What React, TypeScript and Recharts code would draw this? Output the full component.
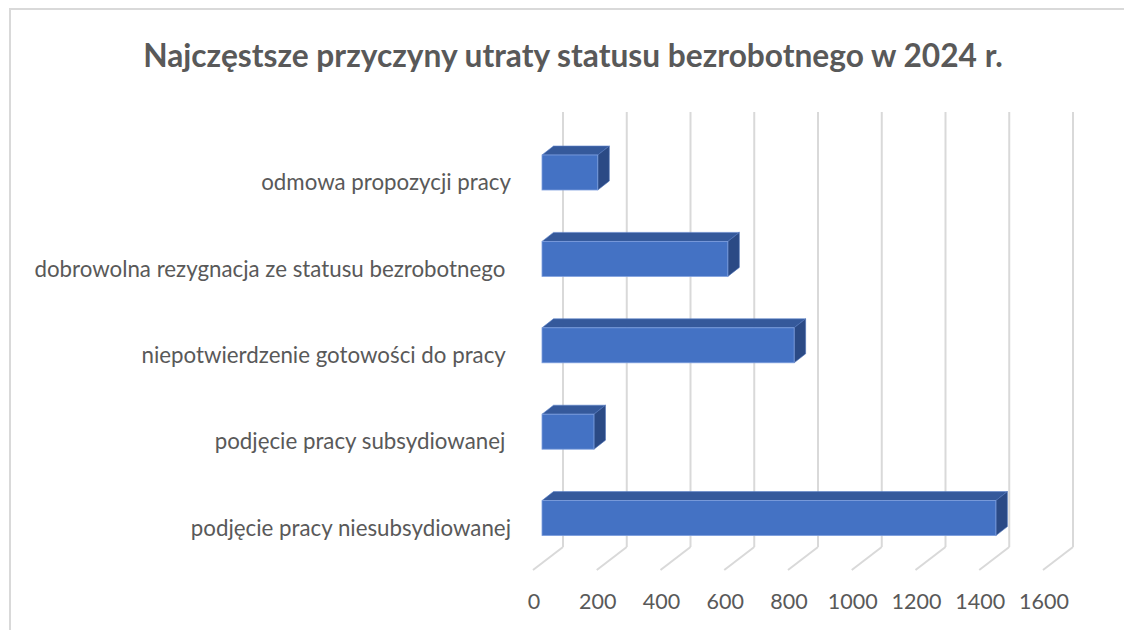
import { Bar, BarChart, CartesianGrid, XAxis, YAxis } from 'recharts'

const categories = [
  'odmowa propozycji pracy',
  'dobrowolna rezygnacja ze statusu bezrobotnego ',
  'niepotwierdzenie gotowości do pracy ',
  'podjęcie pracy subsydiowanej ',
  'podjęcie pracy niesubsydiowanej',
]
const values = [175, 583, 791, 163, 1424]
const xTicks = [0, 200, 400, 600, 800, 1000, 1200, 1400, 1600]

const data = categories.map((name, i) => ({ name, value: values[i] }))

const FRONT = '#4472c4'
const TOP = '#35599b'
const SIDE = '#2b4a85'
const GRID = '#d9d9d9'
const TEXT = '#595959'
const FONT = 'Lato, "Open Sans", sans-serif'

// bar depth (middle third of the 3D floor depth)
const BDX = 11.5
const BDY = 9

function Bar3D(props: any) {
  const { x, y, width, height } = props
  if (width == null || width <= 0) return null
  const top = `${x},${y} ${x + BDX},${y - BDY} ${x + width + BDX},${y - BDY} ${x + width},${y}`
  const side = `${x + width},${y} ${x + width + BDX},${y - BDY} ${x + width + BDX},${y + height - BDY} ${x + width},${y + height}`
  return (
    <g>
      <polygon points={top} fill={TOP} stroke="#5b82c9" strokeWidth={0.6} />
      <polygon points={side} fill={SIDE} stroke="#4a6fb5" strokeWidth={0.6} />
      <rect x={x} y={y} width={width} height={height} fill={FRONT} stroke="#7d9ede" strokeWidth={0.8} />
    </g>
  )
}

function GridLine(props: any) {
  const { x1 } = props
  const bx = x1 + 21
  return (
    <g key={props.key}>
      <line x1={bx} y1={112} x2={bx} y2={547} stroke={GRID} strokeWidth={2} />
      <line x1={bx} y1={547} x2={x1 - 9} y2={570} stroke={GRID} strokeWidth={2} />
    </g>
  )
}

function CategoryTick(props: any) {
  const { y, payload } = props
  return (
    <text
      x={511}
      y={y + 10}
      dy="0.355em"
      textAnchor="end"
      fill={TEXT}
      fontSize={22.3}
      fontFamily={FONT}
      style={{ whiteSpace: 'pre' }}
    >
      {payload.value}
    </text>
  )
}

function ValueTick(props: any) {
  const { x, payload } = props
  return (
    <text x={x - 8} y={601} dy="0.355em" textAnchor="middle" fill={TEXT} fontSize={21.5} fontFamily={FONT}>
      {payload.value}
    </text>
  )
}

export default function App() {
  return (
    <div style={{ position: 'absolute', left: 0, top: 0, width: 1124, height: 630, background: '#fff' }}>
      <div
        style={{
          position: 'absolute',
          left: 9,
          top: 8,
          width: 1130,
          height: 640,
          border: `2px solid ${GRID}`,
          boxSizing: 'border-box',
        }}
      />
      <div
        style={{
          position: 'absolute',
          left: 0,
          top: 33,
          width: 1146,
          textAlign: 'center',
          fontFamily: FONT,
          fontWeight: 700,
          fontSize: 31.7,
          color: TEXT,
          lineHeight: '44px',
        }}
      >
        Najczęstsze przyczyny utraty statusu bezrobotnego w 2024 r.
      </div>
      <div style={{ position: 'absolute', left: 0, top: 0 }}>
        <BarChart
          width={1124}
          height={630}
          data={data}
          layout="vertical"
          margin={{ top: 129, right: 72, bottom: 0, left: 0 }}
        >
          <CartesianGrid horizontal={false} vertical={GridLine} />
          <XAxis
            type="number"
            domain={[0, 1600]}
            ticks={xTicks}
            height={69}
            axisLine={false}
            tickLine={false}
            tick={ValueTick}
            interval={0}
          />
          <YAxis
            type="category"
            dataKey="name"
            width={542}
            axisLine={false}
            tickLine={false}
            tick={CategoryTick}
            interval={0}
          />
          <Bar dataKey="value" barSize={35} shape={Bar3D} isAnimationActive={false} />
        </BarChart>
      </div>
    </div>
  )
}
